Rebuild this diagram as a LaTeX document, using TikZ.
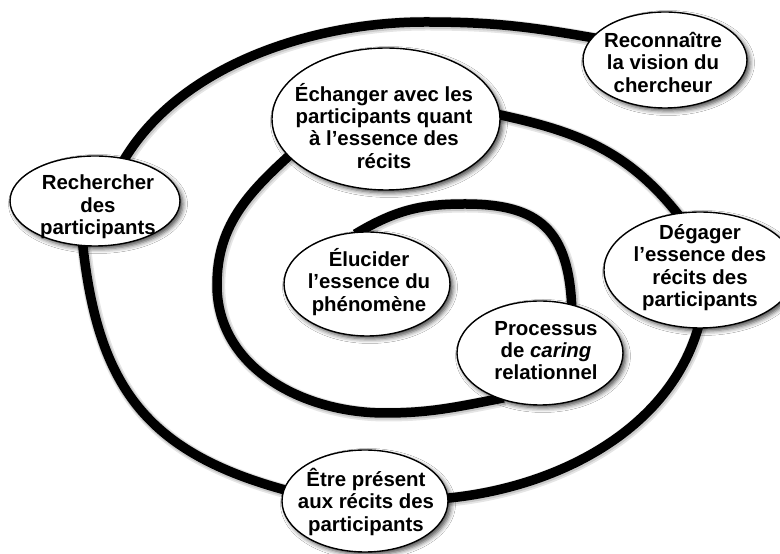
\documentclass[tikz,border=0pt]{standalone}
\usepackage{fontspec}
\setmainfont{Liberation Sans}
\usetikzlibrary{shapes.geometric,shadows.blur}
\pgfdeclarelayer{bg}
\pgfsetlayers{bg,main}
% soft rim for the bubbles: white centre, grey towards the outline
\pgfdeclareradialshading{bubbleshade}{\pgfpointorigin}{%
  color(0bp)=(white); color(30bp)=(white); color(41bp)=(black!12); color(50bp)=(black!42)}

\begin{document}
\begin{tikzpicture}[x=1pt,y=1pt,
  bubble/.style={ellipse, draw=black, line width=1.4pt, shading=bubbleshade, inner sep=0pt,
    blur shadow={shadow xshift=3pt, shadow yshift=-3pt, shadow blur radius=4.5pt, shadow opacity=70}},
  caption/.style={align=center, inner sep=0pt, font=\bfseries\fontsize{20.4}{22.3}\selectfont},
  spiral/.style={line width=9.5pt, black, shorten <=-5pt, shorten >=-5pt,
    preaction={draw, black, opacity=.10, line width=14pt, transform canvas={shift={(1.2pt,-1.5pt)}}},
    preaction={draw, black, opacity=.12, line width=11.5pt, transform canvas={shift={(0.8pt,-1pt)}}}}
]
\useasboundingbox (0,0) rectangle (780,554);
\clip (0,0) rectangle (780,554);

% the seven stages
\node[bubble, minimum width=164pt, minimum height=96pt]  (rec) at (665,494) {};
\node[bubble, minimum width=228pt, minimum height=142pt] (ech) at (386,435) {};
\node[bubble, minimum width=170pt, minimum height=90pt]  (rch) at (95,353) {};
\node[bubble, minimum width=192pt, minimum height=116pt] (deg) at (700,284) {};
\node[bubble, minimum width=166pt, minimum height=102pt] (etr) at (365,53) {};
\node[bubble, minimum width=166pt, minimum height=104pt] (elu) at (367,270) {};
\node[bubble, minimum width=166pt, minimum height=104pt] (pro) at (540,201) {};

\node[caption] (rec-t) at (663,491.75) {Reconnaître\\la vision du\\chercheur};
\node[caption] (ech-t) at (384,428.1) {Échanger avec les\\participants quant\\à l’essence des\\récits};
\node[caption] (rch-t) at (98,347) {Rechercher\\des\\participants};
\node[caption] (deg-t) at (700,286.4) {Dégager\\l’essence des\\récits des\\participants};
\node[caption] (etr-t) at (366,52.1) {Être présent\\aux récits des\\participants};
\node[caption] (elu-t) at (369,272.1) {Élucider\\l’essence du\\phénomène};
\node[caption] (pro-t) at (546,203.25) {Processus\\de \textit{caring}\\relationnel};

% the spiral running behind the bubbles, from the outside inwards
\begin{pgfonlayer}{bg}
  \fill[white] (0,0) rectangle (780,554);
  \coordinate (aTop) at (425,532);
  \coordinate (eL) at (217,269);
  \coordinate (eB) at (385,141);
  \coordinate (fT) at (465,350);
  \draw[spiral] (rec.163) to[out=170,in=0] (aTop) to[out=180,in=60,looseness=0.85] (rch.55);
  \draw[spiral] (rch.255) to[out=276,in=165,looseness=1.15] (etr.172);
  \draw[spiral] (etr.2) to[out=5,in=255,looseness=0.9] (deg.268);
  \draw[spiral] (deg.112) to[out=128,in=348] (ech.2);
  \draw[spiral] (ech.201) to[out=222,in=90] (eL) to[out=270,in=180] (eB) to[out=0,in=191] (pro.228);
  \draw[spiral] (pro.57) to[out=92,in=0,looseness=1.3] (fT) to[out=180,in=31] (elu.98);
\end{pgfonlayer}
\end{tikzpicture}
\end{document}
